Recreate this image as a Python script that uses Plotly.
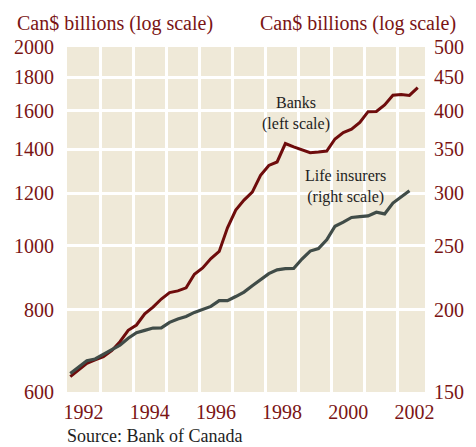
import plotly.graph_objects as go

# Quarterly observations, 1992Q1 onward
years_b = [1992]*4 + [1993]*4 + [1994]*4 + [1995]*4 + [1996]*4 + [1997]*4 + \
          [1998]*4 + [1999]*4 + [2000]*4 + [2001]*4 + [2002]*3
quarters_b = [1, 2, 3, 4] * 10 + [1, 2, 3]

# Banks' assets, Can$ billions (left scale)
banks = [633, 648, 663, 671, 679, 693, 715, 744, 758, 788, 807, 830,
         849, 854, 863, 905, 925, 956, 980, 1064, 1132, 1172, 1205, 1278,
         1323, 1339, 1428, 1411, 1396, 1383, 1386, 1391, 1451, 1484, 1501, 1537,
         1596, 1597, 1634, 1690, 1695, 1689, 1736]

# Life insurers' assets, Can$ billions (right scale), through 2002Q2
life = [160.0, 163.8, 167.3, 168.3, 171.0, 174.0, 176.6, 181.0, 184.5, 186.0, 187.5, 187.6,
        191.3, 193.5, 195.2, 198.0, 200.1, 202.2, 206.3, 206.3, 209.3, 212.6, 217.4, 222.3,
        226.7, 229.7, 230.7, 230.8, 238.6, 245.3, 247.4, 255.2, 267.5, 271.3, 275.8, 276.6,
        277.3, 280.9, 279.3, 290.0, 296.2, 302.7]

left_ticks = [600, 800, 1000, 1200, 1400, 1600, 1800, 2000]
right_ticks = [150, 200, 250, 300, 350, 400, 450, 500]
year_labels = ["1992", "1994", "1996", "1998", "2000", "2002"]

t_banks = [y + (q - 1) / 4 + 0.1 for y, q in zip(years_b, quarters_b)]
t_life = t_banks[:len(life)]

RED = "#6e0c0c"
TXT_RED = "#7a1414"
SLATE = "#404c48"
BEIGE = "#efe9d8"
FONT = "Liberation Serif"

fig = go.Figure()
fig.add_trace(go.Scatter(x=t_banks, y=banks, mode="lines",
                         line=dict(color=RED, width=3), yaxis="y"))
fig.add_trace(go.Scatter(x=t_life, y=life, mode="lines",
                         line=dict(color=SLATE, width=3.2), yaxis="y2"))

fig.update_layout(
    width=476, height=447, autosize=False,
    margin=dict(l=67, r=41, t=47, b=55),
    paper_bgcolor="white", plot_bgcolor=BEIGE,
    showlegend=False,
    font=dict(family=FONT, color=TXT_RED, size=20),
    xaxis=dict(
        range=[1992, 2002.82], showline=False, zeroline=False,
        tickmode="array", tickvals=[int(s) + 0.5 for s in year_labels],
        ticktext=year_labels, showgrid=False, ticks="",
        ticklabelstandoff=6,
        minor=dict(tickmode="array", tickvals=list(range(1993, 2003)),
                   showgrid=True, gridcolor="white", gridwidth=3, ticks=""),
        fixedrange=True,
    ),
    yaxis=dict(
        type="log", range=[2.7781513, 3.30103], showline=False, zeroline=False,
        tickmode="array", tickvals=left_ticks, ticktext=[str(v) for v in left_ticks],
        showgrid=False, ticks="", ticklabelstandoff=12,
        minor=dict(tickmode="array", tickvals=left_ticks[1:-1],
                   showgrid=True, gridcolor="white", gridwidth=3, ticks=""),
    ),
    yaxis2=dict(
        type="log", range=[2.1760913, 2.69897], overlaying="y", side="right",
        showline=False, zeroline=False, showgrid=False, ticks="",
        tickmode="array", tickvals=right_ticks, ticktext=[str(v) for v in right_ticks],
        ticklabelstandoff=8,
    ),
)

annotations = [
    dict(text="Can$ billions (log scale)", x=-0.144, y=1.0667, xanchor="left",
         yanchor="middle", font=dict(size=20, color=TXT_RED)),
    dict(text="Can$ billions (log scale)", x=1.0924, y=1.0667, xanchor="right",
         yanchor="middle", font=dict(size=20, color=TXT_RED)),
    dict(text="Source: Bank of Canada", x=-0.003, y=-0.128, xanchor="left",
         yanchor="middle", font=dict(size=18, color="#1e1e1e"), borderpad=0),
    dict(text="Banks<br>(left scale)", x=0.641, y=0.806, xanchor="center",
         yanchor="middle", font=dict(size=16, color="#1e1e1e")),
    dict(text="Life insurers<br>(right scale)", x=0.777, y=0.597, xanchor="center",
         yanchor="middle", font=dict(size=16, color="#1e1e1e")),
]
for a in annotations:
    fig.add_annotation(xref="paper", yref="paper", showarrow=False, align="center", **a)

fig.write_html("out.html")
